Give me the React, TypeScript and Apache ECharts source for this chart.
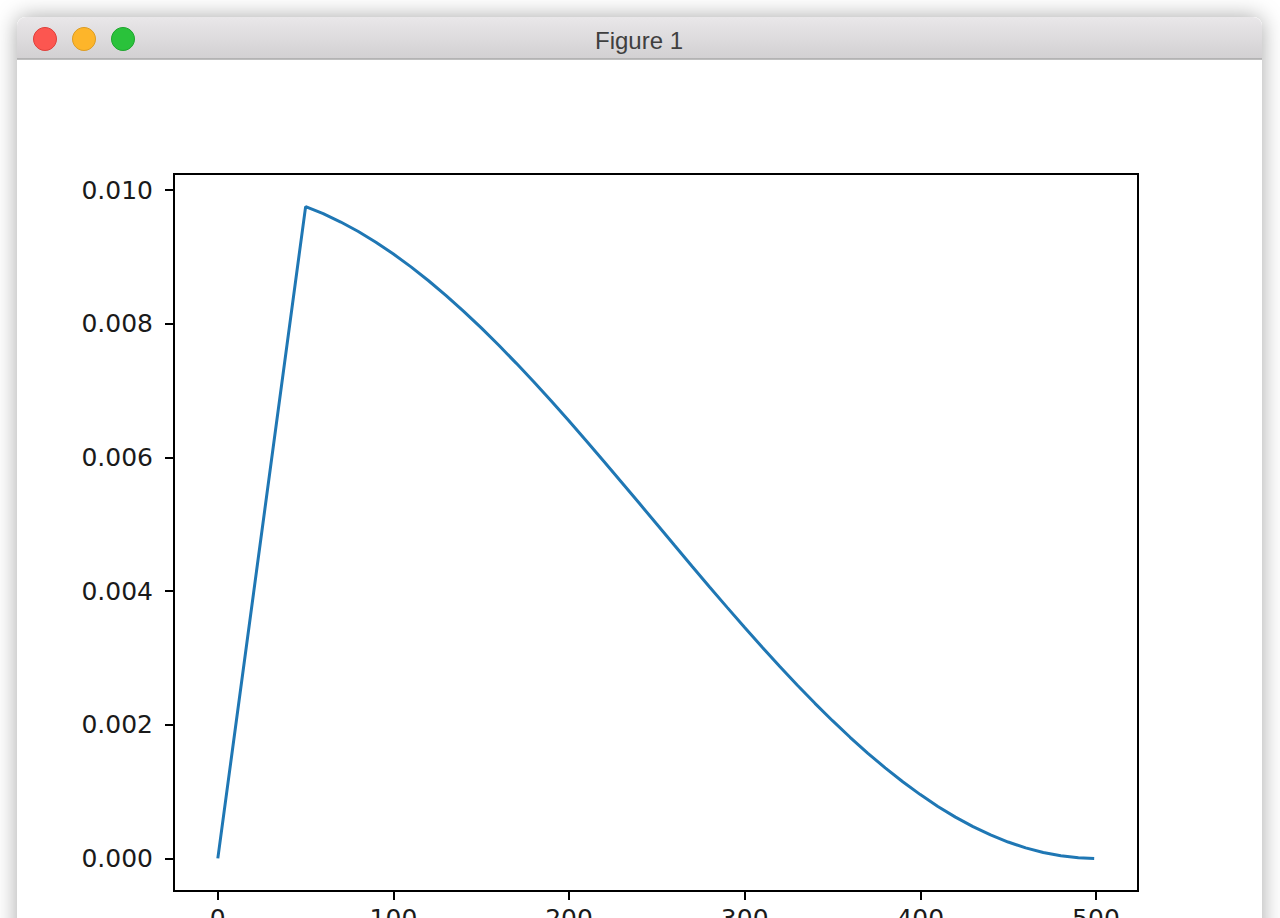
import React, { useEffect, useRef } from "react";
import * as echarts from "echarts";

// Training step (x) and learning rate (y)
const steps = [
  0, 50, 60, 70, 80, 90, 100, 110, 120, 130, 140, 150, 160, 170, 180, 190, 200,
  210, 220, 230, 240, 250, 260, 270, 280, 290, 300, 310, 320, 330, 340, 350,
  360, 370, 380, 390, 400, 410, 420, 430, 440, 450, 460, 470, 480, 490, 499,
];
const lrValues = [
  0.0, 0.009755, 0.009649, 0.009524, 0.009382, 0.009222, 0.009045, 0.008853,
  0.008645, 0.008423, 0.008187, 0.007939, 0.007679, 0.007409, 0.007129,
  0.006841, 0.006545, 0.006243, 0.005937, 0.005627, 0.005314, 0.005, 0.004686,
  0.004373, 0.004063, 0.003757, 0.003455, 0.003159, 0.002871, 0.002591,
  0.002321, 0.002061, 0.001813, 0.001577, 0.001355, 0.001147, 0.000955,
  0.000778, 0.000618, 0.000476, 0.000351, 0.000245, 0.000157, 0.000089,
  0.000039, 0.00001, 0.0,
];
const xTicks = [0, 100, 200, 300, 400, 500];
const yTicks = [0, 0.002, 0.004, 0.006, 0.008, 0.01];
const windowTitle = "Figure 1";

export default function App() {
  const ref = useRef<HTMLDivElement>(null);

  useEffect(() => {
    document.body.style.margin = "0";
    const chart = echarts.init(ref.current!, null, { renderer: "svg" });
    const data = steps.map((s, i) => [s, lrValues[i]]);
    const xMin = 0 - 0.05 * 499;
    const xMax = 499 + 0.05 * 499;
    const yPad = 0.05 * 0.009755;

    chart.setOption({
      animation: false,
      backgroundColor: "#ffffff",
      graphic: [
        {
          type: "rect",
          z: -10,
          silent: true,
          shape: { x: 17, y: 17, width: 1245, height: 960, r: [9, 9, 0, 0] },
          style: {
            fill: "#ffffff",
            shadowBlur: 22,
            shadowColor: "rgba(0,0,0,0.35)",
          },
        },
        {
          type: "rect",
          z: -9,
          silent: true,
          shape: { x: 17, y: 17, width: 1245, height: 42, r: [9, 9, 0, 0] },
          style: {
            fill: new echarts.graphic.LinearGradient(0, 0, 0, 1, [
              { offset: 0, color: "#e9e7e9" },
              { offset: 1, color: "#d2d0d2" },
            ]),
          },
        },
        {
          type: "line",
          z: -8,
          silent: true,
          shape: { x1: 17, y1: 59, x2: 1262, y2: 59 },
          style: { stroke: "#a9a9a9", lineWidth: 1.5 },
        },
        {
          type: "circle",
          z: -8,
          silent: true,
          shape: { cx: 45, cy: 39, r: 11.5 },
          style: { fill: "#fc5650", stroke: "#df3f3a", lineWidth: 1 },
        },
        {
          type: "circle",
          z: -8,
          silent: true,
          shape: { cx: 84, cy: 39, r: 11.5 },
          style: { fill: "#fdb52a", stroke: "#dd9c22", lineWidth: 1 },
        },
        {
          type: "circle",
          z: -8,
          silent: true,
          shape: { cx: 123, cy: 39, r: 11.5 },
          style: { fill: "#2ac23b", stroke: "#1ea62e", lineWidth: 1 },
        },
        {
          type: "text",
          z: -8,
          silent: true,
          x: 639,
          y: 40,
          style: {
            text: windowTitle,
            font: "24px 'Liberation Sans', Arial, sans-serif",
            fill: "#3f3f3f",
            textAlign: "center",
            textVerticalAlign: "middle",
          },
        },
      ],
      grid: {
        left: 174,
        right: 142,
        top: 174,
        bottom: 27,
        containLabel: false,
        outerBoundsMode: "none",
        show: true,
        borderColor: "#000000",
        borderWidth: 2,
        backgroundColor: "transparent",
      },
      xAxis: {
        type: "value",
        min: xMin,
        max: xMax,
        splitLine: { show: false },
        axisLine: { show: true, onZero: false, lineStyle: { color: "#000000", width: 2 } },
        axisTick: {
          show: true,
          inside: false,
          length: 9,
          customValues: xTicks,
          lineStyle: { color: "#000000", width: 2 },
        },
        axisLabel: {
          customValues: xTicks,
          margin: 15,
          color: "#1a1a1a",
          fontSize: 25,
          fontFamily: "'DejaVu Sans', sans-serif",
          formatter: (v: number) => String(Math.round(v)),
        },
      },
      yAxis: {
        type: "value",
        min: -yPad,
        max: 0.009755 + yPad,
        splitLine: { show: false },
        axisLine: { show: true, onZero: false, lineStyle: { color: "#000000", width: 2 } },
        axisTick: {
          show: true,
          inside: false,
          length: 9,
          customValues: yTicks,
          lineStyle: { color: "#000000", width: 2 },
        },
        axisLabel: {
          customValues: yTicks,
          margin: 21,
          color: "#1a1a1a",
          fontSize: 25,
          fontFamily: "'DejaVu Sans', sans-serif",
          formatter: (v: number) => v.toFixed(3),
        },
      },
      series: [
        {
          type: "line",
          data,
          showSymbol: false,
          symbol: "none",
          clip: true,
          lineStyle: { color: "#1f77b4", width: 3 },
        },
      ],
    });

    return () => chart.dispose();
  }, []);

  return (
    <div
      ref={ref}
      style={{ position: "fixed", left: 0, top: 0, width: 1280, height: 918 }}
    />
  );
}
